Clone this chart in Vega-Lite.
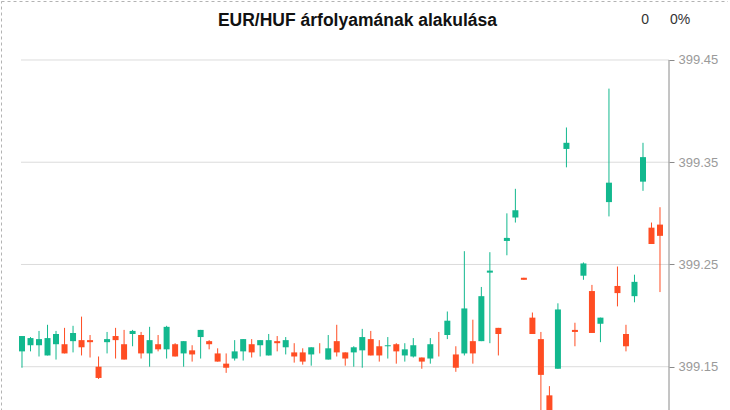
{
  "$schema": "https://vega.github.io/schema/vega-lite/v6.json",
  "width": 727,
  "height": 420,
  "autosize": {"type": "none"},
  "padding": {"left": 1, "top": 1, "right": 0, "bottom": 0},
  "background": "white",
  "title": {"text": "EUR/HUF árfolyamának alakulása", "anchor": "middle", "offset": -28, "dx": -7, "fontSize": 17.5, "fontWeight": "bold", "font": "Liberation Sans", "color": "#111111"},
  "config": {"view": {"stroke": "#b3b3b3", "strokeDash": [3, 3], "strokeWidth": 1}},
  "datasets": {
    "grid": [{"v": 399.15}, {"v": 399.25}, {"v": 399.35}, {"v": 399.45}],
    "candles": [
      {"i": 0, "o": 399.165, "h": 399.180, "l": 399.149, "c": 399.180},
      {"i": 1, "o": 399.171, "h": 399.179, "l": 399.165, "c": 399.178},
      {"i": 2, "o": 399.171, "h": 399.185, "l": 399.160, "c": 399.177},
      {"i": 3, "o": 399.161, "h": 399.191, "l": 399.161, "c": 399.178},
      {"i": 4, "o": 399.172, "h": 399.185, "l": 399.157, "c": 399.182},
      {"i": 5, "o": 399.172, "h": 399.188, "l": 399.163, "c": 399.163},
      {"i": 6, "o": 399.175, "h": 399.190, "l": 399.164, "c": 399.183},
      {"i": 7, "o": 399.176, "h": 399.199, "l": 399.161, "c": 399.169},
      {"i": 8, "o": 399.176, "h": 399.181, "l": 399.159, "c": 399.174},
      {"i": 9, "o": 399.150, "h": 399.160, "l": 399.138, "c": 399.139},
      {"i": 10, "o": 399.174, "h": 399.184, "l": 399.163, "c": 399.177},
      {"i": 11, "o": 399.180, "h": 399.188, "l": 399.158, "c": 399.176},
      {"i": 12, "o": 399.172, "h": 399.186, "l": 399.157, "c": 399.157},
      {"i": 13, "o": 399.182, "h": 399.186, "l": 399.170, "c": 399.185},
      {"i": 14, "o": 399.181, "h": 399.184, "l": 399.158, "c": 399.163},
      {"i": 15, "o": 399.163, "h": 399.189, "l": 399.150, "c": 399.176},
      {"i": 16, "o": 399.172, "h": 399.181, "l": 399.165, "c": 399.167},
      {"i": 17, "o": 399.167, "h": 399.190, "l": 399.158, "c": 399.189},
      {"i": 18, "o": 399.172, "h": 399.173, "l": 399.160, "c": 399.160},
      {"i": 19, "o": 399.163, "h": 399.175, "l": 399.150, "c": 399.175},
      {"i": 20, "o": 399.166, "h": 399.171, "l": 399.155, "c": 399.162},
      {"i": 21, "o": 399.179, "h": 399.186, "l": 399.158, "c": 399.186},
      {"i": 22, "o": 399.175, "h": 399.176, "l": 399.167, "c": 399.172},
      {"i": 23, "o": 399.163, "h": 399.168, "l": 399.155, "c": 399.155},
      {"i": 24, "o": 399.153, "h": 399.163, "l": 399.144, "c": 399.149},
      {"i": 25, "o": 399.158, "h": 399.176, "l": 399.156, "c": 399.165},
      {"i": 26, "o": 399.165, "h": 399.177, "l": 399.156, "c": 399.177},
      {"i": 27, "o": 399.172, "h": 399.177, "l": 399.159, "c": 399.164},
      {"i": 28, "o": 399.171, "h": 399.176, "l": 399.160, "c": 399.176},
      {"i": 29, "o": 399.161, "h": 399.182, "l": 399.161, "c": 399.176},
      {"i": 30, "o": 399.175, "h": 399.180, "l": 399.165, "c": 399.173},
      {"i": 31, "o": 399.169, "h": 399.179, "l": 399.162, "c": 399.176},
      {"i": 32, "o": 399.164, "h": 399.173, "l": 399.154, "c": 399.160},
      {"i": 33, "o": 399.164, "h": 399.168, "l": 399.152, "c": 399.155},
      {"i": 34, "o": 399.162, "h": 399.169, "l": 399.151, "c": 399.169},
      {"i": 35, "o": 399.168, "h": 399.173, "l": 399.163, "c": 399.168},
      {"i": 36, "o": 399.157, "h": 399.181, "l": 399.157, "c": 399.168},
      {"i": 37, "o": 399.175, "h": 399.191, "l": 399.160, "c": 399.164},
      {"i": 38, "o": 399.164, "h": 399.164, "l": 399.151, "c": 399.158},
      {"i": 39, "o": 399.164, "h": 399.170, "l": 399.150, "c": 399.169},
      {"i": 40, "o": 399.166, "h": 399.187, "l": 399.149, "c": 399.179},
      {"i": 41, "o": 399.177, "h": 399.185, "l": 399.161, "c": 399.161},
      {"i": 42, "o": 399.170, "h": 399.176, "l": 399.155, "c": 399.161},
      {"i": 43, "o": 399.170, "h": 399.179, "l": 399.158, "c": 399.171},
      {"i": 44, "o": 399.172, "h": 399.173, "l": 399.153, "c": 399.165},
      {"i": 45, "o": 399.161, "h": 399.173, "l": 399.155, "c": 399.167},
      {"i": 46, "o": 399.160, "h": 399.178, "l": 399.159, "c": 399.171},
      {"i": 47, "o": 399.159, "h": 399.159, "l": 399.148, "c": 399.155},
      {"i": 48, "o": 399.158, "h": 399.178, "l": 399.153, "c": 399.172},
      {"i": 49, "o": 399.172, "h": 399.184, "l": 399.160, "c": 399.172},
      {"i": 50, "o": 399.181, "h": 399.204, "l": 399.177, "c": 399.195},
      {"i": 51, "o": 399.162, "h": 399.170, "l": 399.145, "c": 399.149},
      {"i": 52, "o": 399.163, "h": 399.263, "l": 399.161, "c": 399.207},
      {"i": 53, "o": 399.175, "h": 399.196, "l": 399.153, "c": 399.163},
      {"i": 54, "o": 399.175, "h": 399.228, "l": 399.175, "c": 399.219},
      {"i": 55, "o": 399.242, "h": 399.262, "l": 399.173, "c": 399.244},
      {"i": 56, "o": 399.188, "h": 399.188, "l": 399.161, "c": 399.182},
      {"i": 57, "o": 399.273, "h": 399.300, "l": 399.259, "c": 399.276},
      {"i": 58, "o": 399.296, "h": 399.324, "l": 399.291, "c": 399.303},
      {"i": 59, "o": 399.237, "h": 399.237, "l": 399.235, "c": 399.235},
      {"i": 60, "o": 399.198, "h": 399.203, "l": 399.182, "c": 399.182},
      {"i": 61, "o": 399.177, "h": 399.184, "l": 399.100, "c": 399.142},
      {"i": 62, "o": 399.122, "h": 399.131, "l": 399.090, "c": 399.100},
      {"i": 63, "o": 399.148, "h": 399.212, "l": 399.148, "c": 399.206},
      {"i": 64, "o": 399.363, "h": 399.384, "l": 399.345, "c": 399.369},
      {"i": 65, "o": 399.186, "h": 399.193, "l": 399.170, "c": 399.184},
      {"i": 66, "o": 399.239, "h": 399.252, "l": 399.235, "c": 399.251},
      {"i": 67, "o": 399.224, "h": 399.230, "l": 399.183, "c": 399.183},
      {"i": 68, "o": 399.192, "h": 399.198, "l": 399.174, "c": 399.198},
      {"i": 69, "o": 399.311, "h": 399.422, "l": 399.297, "c": 399.330},
      {"i": 70, "o": 399.229, "h": 399.248, "l": 399.209, "c": 399.222},
      {"i": 71, "o": 399.182, "h": 399.191, "l": 399.165, "c": 399.170},
      {"i": 72, "o": 399.219, "h": 399.240, "l": 399.213, "c": 399.233},
      {"i": 73, "o": 399.331, "h": 399.369, "l": 399.322, "c": 399.355},
      {"i": 74, "o": 399.286, "h": 399.291, "l": 399.270, "c": 399.270},
      {"i": 75, "o": 399.289, "h": 399.306, "l": 399.223, "c": 399.278}
    ]
  },
  "layer": [
    {
      "data": {"name": "grid"},
      "mark": {"type": "rule", "color": "#dcdcdc", "strokeWidth": 1},
      "encoding": {
        "y": {"field": "v", "type": "quantitative",
          "scale": {"domain": [399.0969, 399.5077], "zero": false, "nice": false, "padding": 0},
          "axis": {"orient": "right", "offset": -59, "values": [399.15, 399.25, 399.35, 399.45], "format": ".2f", "domain": false, "grid": false, "ticks": true, "tickSize": 5, "tickColor": "#8a8a8a", "labelColor": "#9a9a9a", "labelFontSize": 13, "labelFont": "Liberation Sans", "labelPadding": 4, "title": null}},
        "x": {"datum": -0.12, "type": "quantitative", "scale": {"domain": [-2.4686, 82.994], "nice": false, "zero": false, "padding": 0}, "axis": null},
        "x2": {"datum": 76.06}
      }
    },
    {
      "data": {"values": [{}]},
      "mark": {"type": "rule", "color": "#8a8a8a", "strokeWidth": 1},
      "encoding": {
        "x": {"datum": 76.06, "type": "quantitative", "axis": null},
        "y": {"datum": 399.45, "type": "quantitative"},
        "y2": {"datum": 399.0969}
      }
    },
    {
      "data": {"name": "candles"},
      "mark": {"type": "rule", "strokeWidth": 1},
      "encoding": {
        "x": {"field": "i", "type": "quantitative", "axis": null},
        "y": {"field": "l", "type": "quantitative"},
        "y2": {"field": "h"},
        "color": {"condition": {"test": "datum.c > datum.o", "value": "#12b88e"}, "value": "#ff4d23"}
      }
    },
    {
      "data": {"name": "candles"},
      "mark": {"type": "bar", "size": 6},
      "encoding": {
        "x": {"field": "i", "type": "quantitative", "axis": null},
        "y": {"field": "o", "type": "quantitative"},
        "y2": {"field": "c"},
        "color": {"condition": {"test": "datum.c > datum.o", "value": "#12b88e"}, "value": "#ff4d23"}
      }
    },
    {
      "data": {"values": [{"t": "0"}]},
      "mark": {"type": "text", "fontSize": 14, "font": "Liberation Sans", "color": "#333333", "align": "center", "baseline": "middle"},
      "encoding": {
        "text": {"field": "t"},
        "x": {"datum": 73.24, "type": "quantitative", "axis": null},
        "y": {"datum": 399.4891, "type": "quantitative"}
      }
    },
    {
      "data": {"values": [{"t": "0%"}]},
      "mark": {"type": "text", "fontSize": 14, "font": "Liberation Sans", "color": "#333333", "align": "center", "baseline": "middle"},
      "encoding": {
        "text": {"field": "t"},
        "x": {"datum": 77.35, "type": "quantitative", "axis": null},
        "y": {"datum": 399.4891, "type": "quantitative"}
      }
    }
  ]
}
